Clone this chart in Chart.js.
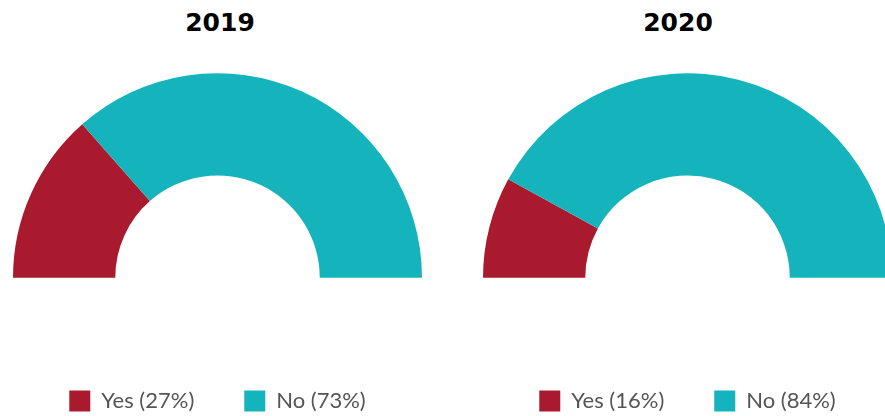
<!DOCTYPE html>
<html>
<head>
<meta charset="utf-8">
<title>Yes / No 2019 - 2020</title>
<script src="https://cdn.jsdelivr.net/npm/chart.js@4.4.0/dist/chart.umd.min.js"></script>
<style>
  html, body { margin: 0; padding: 0; overflow: hidden; background: #fff; }
  body { position: relative; width: 885px; height: 416px; }
  .judul {
    position: absolute; top: 8px; width: 200px; line-height: 29px;
    font: bold 25px "DejaVu Sans", Verdana, sans-serif; color: #000; text-align: center;
  }
  canvas { position: absolute; }
</style>
</head>
<body>
<div class="judul" id="judul2019" style="left:120px">2019</div>
<div class="judul" id="judul2020" style="left:578px">2020</div>
<canvas id="grafik2019" width="409" height="411" style="left:13px; top:11px"></canvas>
<canvas id="grafik2020" width="409" height="411" style="left:483px; top:11px"></canvas>
<script>
const tahun = ['2019', '2020'];
const jawaban = ['Yes', 'No'];
const persenYes = [27, 16];
const persenNo = [73, 84];

const warnaJawaban = ['#a91a2e', '#15b3bc'];

function buatGrafik(idCanvas, i) {
    const nilai = [persenYes[i], persenNo[i]];
    const label = jawaban.map((j, k) => `${j} (${nilai[k]}%)`);

    return new Chart(document.getElementById(idCanvas), {
        type: 'doughnut',
        data: {
            labels: label,
            datasets: [{
                label: tahun[i],
                data: nilai,
                backgroundColor: warnaJawaban,
                borderWidth: 0
            }]
        },
        options: {
            responsive: false,
            animation: false,
            rotation: -90,
            circumference: 180,
            cutout: '50%',
            layout: { padding: 0 },
            plugins: {
                legend: {
                    position: 'bottom',
                    labels: {
                        boxWidth: 21,
                        boxHeight: 21,
                        padding: 50,
                        color: '#555',
                        font: { family: 'Lato', size: 22 }
                    }
                },
                tooltip: { enabled: true }
            }
        }
    });
}

buatGrafik('grafik2019', 0);
buatGrafik('grafik2020', 1);
</script>
</body>
</html>
